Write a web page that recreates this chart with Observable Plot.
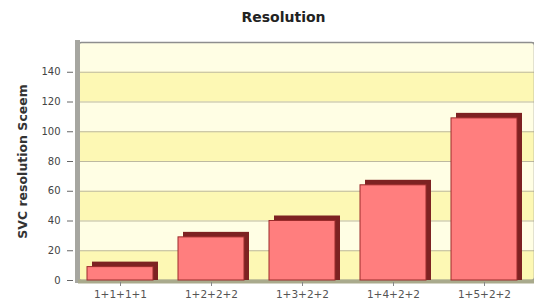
<!DOCTYPE html>
<html><head><meta charset="utf-8">
<script src="https://cdn.jsdelivr.net/npm/d3@7"></script>
<script src="https://cdn.jsdelivr.net/npm/@observablehq/plot@0.6"></script>
<style>body{margin:0;background:#fff;} svg{display:block;}</style>
</head><body><div id="chart"></div>
<script>
const title = "Resolution";
const yLabel = "SVC resolution Sceem";
const categories = ["1+1+1+1", "1+2+2+2", "1+3+2+2", "1+4+2+2", "1+5+2+2"];
const values = [9, 29, 40, 64, 109];
const yTicks = [0, 20, 40, 60, 80, 100, 120, 140];
const yMax = 160;

const data = categories.map((c, i) => ({cat: c, value: values[i]}));
const darkBands = yTicks.filter((t, i) => i % 2 === 0).map(t => ({lo: t, hi: t + 20}));

const chart = Plot.plot({
  width: 534,
  height: 300,
  marginTop: 42,
  marginBottom: 20,
  marginLeft: 78,
  marginRight: 0,
  style: {fontFamily: "DejaVu Sans, sans-serif", fontSize: "10px", color: "#444", background: "#fff"},
  x: {domain: categories, range: [73, 531], paddingInner: 0.27, paddingOuter: 0.135, label: null, axis: null},
  y: {domain: [0, yMax], label: null, axis: null},
  marks: [
    Plot.frame({fill: "#fffee4", stroke: "none"}),
    Plot.rect(darkBands, {y1: "lo", y2: "hi", fill: "#fdf8b4"}),
    Plot.ruleY(yTicks.slice(1).concat([yMax]), {stroke: "#bdb9a0", strokeWidth: 1}),
    Plot.frame({stroke: "#8e8e8e", strokeWidth: 1.5, rx: 3}),
    Plot.frame({anchor: "left", stroke: "#a6a6a0", strokeWidth: 5, dx: -1}),
    Plot.ruleY([0], {stroke: "#a9aa8c", strokeWidth: 4, dy: 1}),
    Plot.barY(data, {x: "cat", y: "value", fill: "#7d2222", dx: 5, dy: -5, insetBottom: -5}),
    Plot.barY(data, {x: "cat", y: "value", fill: "#ff7e7e", stroke: "#9b2b2b", strokeWidth: 1}),
    Plot.axisY({ticks: yTicks, tickSize: 6, tickPadding: 7, dx: -5, label: null, fontSize: 10, fill: "#444", stroke: "#666"}),
    Plot.axisX({tickSize: 4, tickPadding: 4, dy: 2, label: null, fontSize: 10.5, fill: "#555", stroke: "#888"}),
    Plot.text([title], {frameAnchor: "top", lineAnchor: "middle", dx: -23, dy: -25, fontSize: 14, fontWeight: "bold", fill: "#222"}),
    Plot.text([yLabel], {frameAnchor: "left", textAnchor: "middle", lineAnchor: "middle", dx: -56, rotate: -90, fontSize: 12.5, fontWeight: "bold", fill: "#333"})
  ]
});
document.getElementById("chart").append(chart);
</script>
</body></html>
